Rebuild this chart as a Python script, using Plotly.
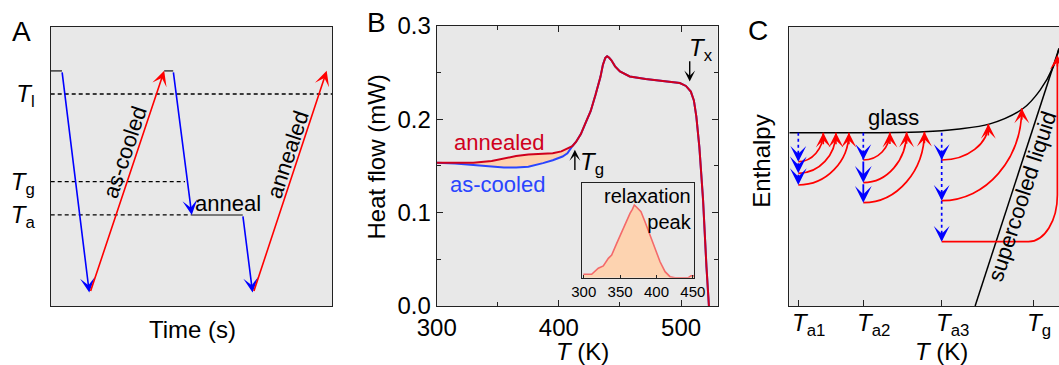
import plotly.graph_objects as go

W, H = 1059, 365
FONT = "Liberation Sans, Arial, Helvetica, sans-serif"
BG = "#e8e8e8"
RED = "#ff0000"
BLUE = "#0000ff"

# ---------------- Panel A : thermal protocol (schematic, arbitrary units) ----------------
a_T_levels = [75.9, 44.5, 32.6]                      # T_l, T_g, T_a
a_T_labels = ["<i>T</i><sub>l</sub>", "<i>T</i><sub>g</sub>", "<i>T</i><sub>a</sub>"]
a_dash_end = [100, 47.7, 50.1]
a_hold_t0 = [0, 40.3, 50.1]
a_hold_t1 = [4.0, 43.5, 68.2]
a_hold_T = [84.2, 84.2, 32.6]
a_cool_t0 = [4.0, 43.5, 68.2]
a_cool_T0 = [84.2, 84.2, 32.6]
a_cool_t1 = [13.7, 50.1, 71.7]
a_cool_T1 = [4.8, 32.6, 4.8]
a_heat_t0 = [14.0, 72.0]
a_heat_T0 = [4.8, 4.8]
a_heat_t1 = [40.3, 98.0]
a_heat_T1 = [84.2, 84.2]

# ---------------- Panel B : DSC heat flow ----------------
b_T_annealed = [300, 315, 330, 345, 355, 365, 375, 385, 395, 402, 406]
b_HF_annealed = [0.1532, 0.1532, 0.1533, 0.1553, 0.1580, 0.1605, 0.1622, 0.1628, 0.1634, 0.1655, 0.1677]
b_T_ascooled = [300, 315, 330, 345, 355, 365, 375, 387, 395, 403, 407]
b_HF_ascooled = [0.1532, 0.1525, 0.1510, 0.1492, 0.1483, 0.1483, 0.1490, 0.1529, 0.1560, 0.1600, 0.1635]
b_T_common = [411, 414, 418, 422, 426, 430, 434, 436, 438, 439.5, 441, 443, 446, 450, 458,
              471, 485, 499, 504, 508, 510.5, 512.5, 515, 518, 520.8, 522.7, 523.3]
b_HF_common = [0.1710, 0.1755, 0.1840, 0.1965, 0.2085, 0.2260, 0.2450, 0.2580, 0.2655, 0.2672,
               0.2660, 0.2630, 0.2565, 0.2510, 0.2457, 0.2430, 0.2410, 0.2386, 0.2355, 0.2295,
               0.2200, 0.2030, 0.1700, 0.1140, 0.0420, 0.0, -0.01]
b_x_ticks = [300, 400, 500]
b_y_ticks = [0.0, 0.1, 0.2, 0.3]
b_y_ticktext = ["0.0", "0.1", "0.2", "0.3"]

# inset : relaxation peak (difference curve)
i_T = [299.4, 310.9, 320, 326.9, 333.8, 338.4, 345.3, 352.2, 359, 363.6, 366.8, 369.5,
       372.8, 378.7, 384.2, 391.1, 398, 404.9, 411.8, 418.6, 425.5, 443.8, 447.5, 452]
i_val = [0.036, 0.036, 0.10, 0.124, 0.205, 0.24, 0.364, 0.487, 0.618, 0.682, 0.724, 0.77,
         0.746, 0.699, 0.593, 0.452, 0.311, 0.169, 0.064, 0.011, 0.0, 0.0, 0.021, 0.021]
i_x_ticks = [300, 350, 400, 450]

# ---------------- Panel C : enthalpy schematic ----------------
c_ticks = [3.34, 27.44, 56.5, 90.47]
c_ticktext = ["<i>T</i><sub>a1</sub>", "<i>T</i><sub>a2</sub>", "<i>T</i><sub>a3</sub>", "<i>T</i><sub>g</sub>"]
c_glass_x = [0, 31.1, 49.7, 62.1, 74.4, 86.8, 93.0, 97.9, 100]
c_glass_y = [62.05, 62.05, 62.4, 63.3, 65.2, 70.8, 77.3, 85.7, 92.2]
c_liquid_x = [68.9, 100]
c_liquid_y = [0, 92.2]
c_glass_level = 62.05
# annealing drops (blue) at Ta1, Ta2, Ta3
c_drop_levels = [[51.67, 47.51, 43.32], [52.27, 44.15, 36.98], [52.27, 37.70, 23.02]]
c_drop_dashed = [[True, False, False], [True, False, False], [True, True, True]]
# reheating (red): end points on glass line
c_rise_end_x = [[12.6, 17.3, 22.1], [37.3, 43.5, 50.1], [73.8, 86.2, 99.4]]
c_rise_end_y = [[62.05, 62.05, 62.05], [62.1, 62.2, 62.4], [65.2, 70.8, 89.9]]
c_rise_corner = [[1, 1, 1], [1, 1, 1], [1, 1, 0.25]]

fig = go.Figure()

# ---- Panel A traces
for lvl, xe in zip(a_T_levels, a_dash_end):
    fig.add_trace(go.Scatter(x=[0, xe], y=[lvl, lvl], mode="lines",
                             line=dict(color="black", width=1.3, dash="4px,3px"),
                             xaxis="x", yaxis="y", hoverinfo="skip"))
for t0, t1, T in zip(a_hold_t0, a_hold_t1, a_hold_T):
    fig.add_trace(go.Scatter(x=[t0, t1], y=[T, T], mode="lines",
                             line=dict(color="#555555", width=1.6),
                             xaxis="x", yaxis="y", hoverinfo="skip"))

annotations = []
ASZ = 1.55


def arrow(xr, yr, x0, y0, x1, y1, color, width=1.6, size=ASZ):
    annotations.append(dict(x=x1, y=y1, ax=x0, ay=y0, xref=xr, yref=yr, axref=xr, ayref=yr,
                            showarrow=True, arrowhead=3, arrowsize=size, arrowwidth=width,
                            arrowcolor=color, text="", standoff=0, startstandoff=0))


def head(xr, yr, x1, y1, dy_px, color, width=1.6, size=ASZ):
    annotations.append(dict(x=x1, y=y1, ax=0, ay=dy_px, xref=xr, yref=yr,
                            showarrow=True, arrowhead=3, arrowsize=size, arrowwidth=width,
                            arrowcolor=color, text="", standoff=0))


for t0, T0, t1, T1 in zip(a_cool_t0, a_cool_T0, a_cool_t1, a_cool_T1):
    arrow("x", "y", t0, T0, t1, T1, BLUE)
for t0, T0, t1, T1 in zip(a_heat_t0, a_heat_T0, a_heat_t1, a_heat_T1):
    arrow("x", "y", t0, T0, t1, T1, RED)

txt = dict(font=dict(size=22, color="black", family=FONT), showarrow=False)
annotations.append(dict(x=26.4, y=54.8, xref="x", yref="y", text="as-cooled", textangle=-71.5, **txt))
annotations.append(dict(x=84.3, y=54.1, xref="x", yref="y", text="annealed", textangle=-71.7, **txt))
annotations.append(dict(x=63.0, y=36.6, xref="x", yref="y", text="anneal", **txt))

# ---- Panel B traces
fill_x = b_T_annealed + [b_T_common[0]] + b_T_ascooled[::-1]
fill_y = b_HF_annealed + [b_HF_common[0]] + b_HF_ascooled[::-1]
fig.add_trace(go.Scatter(x=fill_x, y=fill_y, fill="toself", fillcolor="#fdd3b0",
                         line=dict(width=0), mode="lines", xaxis="x2", yaxis="y2", hoverinfo="skip"))
fig.add_trace(go.Scatter(x=b_T_ascooled + b_T_common, y=b_HF_ascooled + b_HF_common, mode="lines",
                         line=dict(color="#2a45ff", width=2), xaxis="x2", yaxis="y2", hoverinfo="skip"))
fig.add_trace(go.Scatter(x=b_T_annealed + b_T_common, y=b_HF_annealed + b_HF_common, mode="lines",
                         line=dict(color="#d0001c", width=2), xaxis="x2", yaxis="y2", hoverinfo="skip"))
annotations.append(dict(x=351, y=0.1747, xref="x2", yref="y2", text="annealed",
                        font=dict(size=22, color="#d0001c", family=FONT), showarrow=False))
annotations.append(dict(x=349.5, y=0.1297, xref="x2", yref="y2", text="as-cooled",
                        font=dict(size=22, color="#2a45ff", family=FONT), showarrow=False))
arrow("x2", "y2", 413.1, 0.1439, 413.1, 0.1672, "black", width=1.4, size=1.3)
annotations.append(dict(x=415.8, y=0.152, xref="x2", yref="y2", xanchor="left",
                        text="<i>T</i><sub>g</sub>", font=dict(size=24, family=FONT), showarrow=False))
arrow("x2", "y2", 507.1, 0.2636, 507.1, 0.2404, "black", width=1.4, size=1.3)
annotations.append(dict(x=505.0, y=0.2745, xref="x2", yref="y2", xanchor="left",
                        text="<i>T</i><sub>x</sub>", font=dict(size=24, family=FONT), showarrow=False))

# inset
fig.add_trace(go.Scatter(x=i_T, y=i_val, mode="lines", fill="tozeroy", fillcolor="#fdd3b0",
                         line=dict(color="#f46a6a", width=1.6), xaxis="x3", yaxis="y3", hoverinfo="skip"))
annotations.append(dict(x=451.5, y=1.0, xref="x3", yref="y3", xanchor="right", yanchor="top",
                        align="right", text="relaxation<br>peak",
                        font=dict(size=20, family=FONT), showarrow=False))

# ---- Panel C traces
fig.add_trace(go.Scatter(x=c_glass_x, y=c_glass_y, mode="lines", line=dict(color="black", width=1.5, shape="spline"),
                         xaxis="x4", yaxis="y4", hoverinfo="skip"))
fig.add_trace(go.Scatter(x=c_liquid_x, y=c_liquid_y, mode="lines", line=dict(color="black", width=1.5),
                         xaxis="x4", yaxis="y4", hoverinfo="skip"))

shapes = []
K = 0.5523
for ta, levels, dashed, ex, ey, cf in zip(c_ticks[:3], c_drop_levels, c_drop_dashed,
                                          c_rise_end_x, c_rise_end_y, c_rise_corner):
    prev = c_glass_level
    for lv, d, x1, y1, f in zip(levels, dashed, ex, ey, cf):
        rx = f * (x1 - ta)
        ry = f * (y1 - lv)
        xs = x1 - rx
        path = (f"M {ta},{lv} L {xs},{lv} C {xs + K * rx},{lv} {x1},{lv + ry - K * ry} {x1},{lv + ry} "
                f"L {x1},{y1 - 2}")
        shapes.append(dict(type="path", path=path, xref="x4", yref="y4",
                           line=dict(color=RED, width=1.7)))
        head("x4", "y4", x1, y1, 13, RED, width=1.6)
        if d:
            fig.add_trace(go.Scatter(x=[ta, ta], y=[prev, lv], mode="lines",
                                     line=dict(color=BLUE, width=1.7, dash="3px,3px"),
                                     xaxis="x4", yaxis="y4", hoverinfo="skip"))
            head("x4", "y4", ta, lv, -11, BLUE, width=1.7)
        else:
            arrow("x4", "y4", ta, prev, ta, lv, BLUE, width=1.8)
        prev = lv

annotations.append(dict(x=38.8, y=67.6, xref="x4", yref="y4", text="glass", **txt))
annotations.append(dict(x=86.4, y=39.1, xref="x4", yref="y4", text="supercooled liquid",
                        textangle=-71.9, **txt))

# tick labels of panel C (T centred on the tick, subscript hanging right)
for tv, tt in zip(c_ticks, c_ticktext):
    annotations.append(dict(x=tv, y=1 - 307 / H, xref="x4", yref="paper", xanchor="left", yanchor="top",
                            xshift=-8, text=tt, showarrow=False,
                            font=dict(size=24, family=FONT, color="black")))


def ptxt(x, y, text, size=24, angle=0):
    annotations.append(dict(x=x / W, y=1 - y / H, xref="paper", yref="paper", text=text,
                            textangle=angle, showarrow=False, font=dict(size=size, family=FONT, color="black"),
                            xanchor="center", yanchor="middle"))


ptxt(192.5, 329, "Time (s)")
ptxt(582.5, 351, "<i>T</i> (K)")
ptxt(941.7, 351, "<i>T</i> (K)")
ptxt(376, 157.5, "Heat flow (mW)", angle=-90)
ptxt(762, 161.7, "Enthalpy", angle=-90)
ptxt(21.7, 32, "A", size=28)
ptxt(376, 23, "B", size=28)
ptxt(758, 31, "C", size=28)

base = dict(showgrid=False, zeroline=False, linecolor="#222222", linewidth=1.3, automargin=False,
            tickcolor="#222222", tickfont=dict(size=24, family=FONT, color="black"))
base_small = dict(base)
base_small["tickfont"] = dict(size=15, family=FONT, color="black")

fig.update_layout(
    width=W, height=H, margin=dict(l=0, r=0, t=0, b=0, autoexpand=False),
    paper_bgcolor="white", plot_bgcolor=BG, showlegend=False,
    font=dict(family=FONT, size=24, color="black"),
    xaxis=dict(domain=[50.7 / W, 332.3 / W], range=[0, 100], showline=True, mirror=True,
               showticklabels=False, ticks="", anchor="y", **base),
    yaxis=dict(domain=[1 - 306 / H, 1 - 26.7 / H], range=[0, 100], showline=True, mirror=True,
               tickvals=a_T_levels, ticktext=a_T_labels, ticks="", ticklabelstandoff=10, anchor="x", **base),
    xaxis2=dict(domain=[436.7 / W, 717.7 / W], range=[300, 530], tickvals=b_x_ticks, ticks="inside",
                ticklen=6, showline=True, mirror="allticks", anchor="y2",
                minor=dict(tickvals=[350, 450], ticklen=4, ticks="inside", tickcolor="#222222"), **base),
    yaxis2=dict(domain=[1 - 306 / H, 1 - 25.7 / H], range=[0, 0.3], tickvals=b_y_ticks, ticktext=b_y_ticktext,
                ticks="inside", ticklen=6, showline=True, mirror="allticks", anchor="x2",
                minor=dict(tickvals=[0.05, 0.15, 0.25], ticklen=4, ticks="inside", tickcolor="#222222"), **base),
    xaxis3=dict(domain=[582.3 / W, 694.3 / W], range=[298, 452], tickvals=i_x_ticks, ticks="inside",
                ticklen=3, showline=True, mirror=True, anchor="y3", **base_small),
    yaxis3=dict(domain=[1 - 277.7 / H, 1 - 183.3 / H], range=[0, 1], showticklabels=False, ticks="",
                showline=True, mirror=True, anchor="x3", **base_small),
    xaxis4=dict(domain=[789.3 / W, 1.0], range=[0, 100], tickvals=c_ticks, showticklabels=False,
                ticks="inside", ticklen=6, showline=True, mirror=True, anchor="y4", **base),
    yaxis4=dict(domain=[1 - 306 / H, 1 - 26.7 / H], range=[0, 100], showticklabels=False, ticks="",
                showline=True, mirror=False, anchor="x4", **base),
    annotations=annotations, shapes=shapes,
)

fig.write_html("out.html")
